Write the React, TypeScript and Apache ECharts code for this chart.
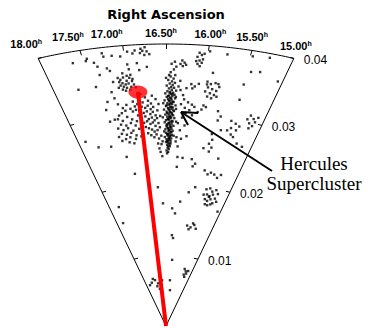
import React, { useEffect, useRef } from "react";
import * as echarts from "echarts";

// ---- axis definitions ----
const RA_MIN = 15;
const RA_MAX = 18;
const RA_CENTER = 16.5;
const Z_MAX = 0.04;
const raTicks = [18, 17.5, 17, 16.5, 16, 15.5, 15];
const raTickLabels = ["18.00", "17.50", "17.00", "16.50", "16.00", "15.50", "15.00"];
const zTicks = [0.01, 0.02, 0.03, 0.04];
const zTickLabels = ["0.01", "0.02", "0.03", "0.04"];
const axisTitle = "Right Ascension";
const annotationLines = ["Hercules", "Supercluster"];

// highlighted direction (red marker)
const markerRA = 16.89;
const markerZ = 0.0333;

// ---- galaxies [RA (h), z] ----
const fingerGalaxies: number[][] = [
  [16.44,0.0354],[16.40,0.0351],[16.47,0.0349],[16.42,0.0347],[16.38,0.0345],[16.45,0.0344],[16.41,0.0342],[16.49,0.0341],
  [16.43,0.0339],[16.39,0.0338],[16.46,0.0337],[16.42,0.0335],[16.36,0.0334],[16.48,0.0333],[16.44,0.0332],[16.40,0.0331],
  [16.51,0.0330],[16.43,0.0329],[16.38,0.0328],[16.46,0.0327],[16.41,0.0326],[16.49,0.0325],[16.44,0.0324],[16.37,0.0323],
  [16.47,0.0322],[16.42,0.0321],[16.52,0.0320],[16.45,0.0319],[16.39,0.0318],[16.43,0.0317],[16.48,0.0316],[16.41,0.0315],
  [16.46,0.0314],[16.36,0.0313],[16.50,0.0312],[16.44,0.0311],[16.40,0.0310],[16.47,0.0309],[16.42,0.0308],[16.53,0.0307],
  [16.45,0.0306],[16.38,0.0305],[16.49,0.0304],[16.43,0.0303],[16.41,0.0302],[16.46,0.0301],[16.51,0.0300],[16.39,0.0299],
  [16.44,0.0298],[16.48,0.0297],[16.42,0.0296],[16.37,0.0295],[16.47,0.0294],[16.45,0.0293],[16.50,0.0292],[16.40,0.0291],
  [16.43,0.0290],[16.52,0.0289],[16.46,0.0288],[16.41,0.0287],[16.48,0.0286],[16.44,0.0285],[16.38,0.0284],[16.49,0.0283],
  [16.43,0.0282],[16.47,0.0281],[16.41,0.0280],[16.51,0.0279],[16.45,0.0278],[16.39,0.0277],[16.46,0.0276],[16.42,0.0275],
  [16.50,0.0274],[16.44,0.0273],[16.48,0.0272],[16.40,0.0271],[16.47,0.0270],[16.43,0.0269],[16.52,0.0268],[16.45,0.0267],
  [16.41,0.0266],[16.49,0.0265],[16.44,0.0264],[16.47,0.0263],[16.42,0.0262],[16.50,0.0261],[16.46,0.0260],[16.44,0.0258],
  [16.48,0.0257],[16.43,0.0255],[16.47,0.0253],[16.45,0.0251],[16.49,0.0249],[16.46,0.0247],[16.48,0.0245],
  [16.45,0.0331],[16.41,0.0329],[16.47,0.0326],[16.43,0.0323],[16.46,0.0320],[16.40,0.0318],[16.44,0.0315],[16.49,0.0313],
  [16.42,0.0311],[16.46,0.0308],[16.39,0.0306],[16.44,0.0304],[16.48,0.0302],[16.41,0.0300],[16.45,0.0297],[16.43,0.0295],
  [16.47,0.0293],[16.40,0.0290],[16.45,0.0288],[16.49,0.0285],[16.42,0.0283],[16.46,0.0280],[16.44,0.0278],[16.41,0.0275],
  [16.47,0.0272],[16.43,0.0270],[16.45,0.0266],[16.48,0.0262],[16.42,0.0259],[16.46,0.0255],[16.36,0.0325],[16.35,0.0308],
  [16.54,0.0316],[16.55,0.0296],[16.53,0.0276],[16.34,0.0290],[16.37,0.0270],[16.33,0.0340],[16.31,0.0348],[16.50,0.0352],
  [16.46,0.0356],[16.38,0.0356],[16.44,0.0360],[16.40,0.0364],[16.37,0.0368],[16.43,0.0372],[16.39,0.0375],
];

const westGroup: number[][] = [
  [17.10,0.0352],[17.06,0.0355],[17.02,0.0350],[16.98,0.0354],[17.08,0.0347],[17.04,0.0345],[17.12,0.0349],[16.95,0.0349],
  [17.00,0.0346],[16.93,0.0344],[17.07,0.0342],[17.11,0.0344],[16.97,0.0341],[17.03,0.0340],[17.09,0.0338],[16.91,0.0340],
  [17.05,0.0336],[17.14,0.0341],[16.99,0.0337],[17.01,0.0357],[17.13,0.0355],[16.96,0.0358],[17.06,0.0361],[16.94,0.0352],
  [16.88,0.0322],[16.84,0.0318],[16.80,0.0325],[16.76,0.0320],[16.72,0.0316],[16.86,0.0312],[16.81,0.0310],[16.77,0.0313],
  [16.73,0.0308],[16.69,0.0311],[16.90,0.0306],[16.84,0.0303],[16.79,0.0305],[16.74,0.0301],[16.70,0.0304],[16.66,0.0299],
  [16.88,0.0296],[16.82,0.0298],[16.77,0.0294],[16.72,0.0296],[16.68,0.0292],[16.64,0.0295],[16.85,0.0289],[16.80,0.0291],
  [16.75,0.0287],[16.71,0.0289],[16.62,0.0288],[16.67,0.0284],[16.83,0.0283],[16.78,0.0281],[16.73,0.0279],[16.60,0.0282],
  [16.69,0.0276],[16.64,0.0278],[16.80,0.0274],[16.75,0.0271],[16.70,0.0268],[16.66,0.0272],[16.62,0.0266],[16.58,0.0270],
  [16.92,0.0316],[16.95,0.0308],[16.93,0.0300],[16.86,0.0330],[16.70,0.0327],[16.65,0.0322],[16.61,0.0315],[16.63,0.0306],
  [16.59,0.0298],[16.58,0.0258],[16.62,0.0252],[16.56,0.0262],[16.60,0.0247],[16.64,0.0259],[16.57,0.0241],
  [17.25,0.0297],[17.18,0.0294],[17.10,0.0299],[17.03,0.0295],[16.96,0.0292],[17.22,0.0289],[17.14,0.0287],[17.06,0.0290],
  [16.99,0.0286],[17.28,0.0284],[17.20,0.0281],[17.12,0.0283],[17.04,0.0279],[16.94,0.0281],[17.24,0.0276],[17.16,0.0274],
  [17.08,0.0276],[17.00,0.0272],[17.30,0.0272],[17.19,0.0268],[17.11,0.0270],[17.02,0.0267],[16.92,0.0270],[17.14,0.0263],
  [17.06,0.0261],[17.26,0.0266],[17.20,0.0318],[17.14,0.0312],[17.08,0.0316],[17.17,0.0305],[17.11,0.0308],[17.03,0.0310],
  [17.22,0.0302],[16.98,0.0320],[17.00,0.0306],[16.96,0.0313],
];

const northField: number[][] = [
  [17.26,0.0392],[17.25,0.0387],[17.15,0.0387],[17.05,0.0385],[16.96,0.0391],[16.90,0.0388],[16.87,0.0392],[16.81,0.0388],
  [16.78,0.0391],[16.76,0.0385],[16.70,0.0386],[17.45,0.0387],[17.47,0.0384],[17.38,0.0380],[17.35,0.0374],[17.24,0.0370],
  [17.21,0.0366],[16.98,0.0373],[16.97,0.0366],[16.86,0.0374],[16.84,0.0364],[16.74,0.0368],[16.75,0.0396],[16.80,0.0394],
  [16.73,0.0390],[17.63,0.0384],[17.35,0.0362],[17.20,0.0350],[17.25,0.0336],[17.39,0.0312],
  [17.68,0.0346],[17.44,0.0346],[17.34,0.0323],[17.23,0.0327],[17.38,0.0295],[17.30,0.0297],[17.88,0.0273],[17.70,0.0262],
  [17.48,0.0260],[17.25,0.0243],[17.16,0.0218],[16.69,0.0197],
  [16.10,0.0389],[16.07,0.0386],[16.12,0.0383],[16.05,0.0380],[16.09,0.0378],[16.06,0.0375],[16.11,0.0373],[16.08,0.0370],
  [16.04,0.0388],[16.13,0.0377],[16.30,0.0377],[16.27,0.0374],[16.32,0.0372],[16.25,0.0371],[16.29,0.0369],
  [15.98,0.0392],[15.77,0.0390],[15.47,0.0392],[15.27,0.0394],
];

const eastField: number[][] = [
  [15.90,0.0362],[15.43,0.0370],[15.32,0.0372],[15.06,0.0364],[15.46,0.0329],[15.47,0.0351],[15.95,0.0345],[15.80,0.0347],
  [15.95,0.0349],[15.90,0.0346],[15.84,0.0348],[15.78,0.0343],[15.93,0.0341],[15.87,0.0339],[15.81,0.0337],[15.96,0.0335],
  [15.89,0.0333],[15.83,0.0331],[15.92,0.0328],[15.86,0.0326],[15.79,0.0329],
  [16.16,0.0344],[16.11,0.0341],[16.06,0.0345],[16.14,0.0338],
  [16.24,0.0322],[16.18,0.0318],[16.12,0.0315],[16.22,0.0310],[16.15,0.0307],[16.08,0.0312],[16.20,0.0303],[16.10,0.0300],
  [16.02,0.0305],[15.97,0.0309],[15.95,0.0315],[15.91,0.0313],[15.72,0.0309],[15.66,0.0302],[15.69,0.0296],
  [16.30,0.0335],[16.26,0.0328],[16.22,0.0338],[16.28,0.0315],[16.25,0.0296],[16.31,0.0288],[16.20,0.0285],[16.27,0.0278],
  [16.33,0.0262],[16.29,0.0255],
  [15.22,0.0310],[15.16,0.0306],[15.12,0.0302],[15.20,0.0299],[15.14,0.0296],[15.25,0.0304],[15.10,0.0309],[15.18,0.0292],
  [15.48,0.0298],[15.40,0.0295],[15.33,0.0292],[15.45,0.0288],[15.36,0.0286],[15.50,0.0284],
  [15.27,0.0268],[15.16,0.0265],[15.60,0.0283],[15.70,0.0268],[15.42,0.0279],[15.37,0.0276],
  [15.74,0.0262],[15.68,0.0257],[15.71,0.0251],[16.32,0.0268],[16.24,0.0266],[16.15,0.0270],
  [16.00,0.0238],[15.92,0.0232],[15.96,0.0228],[16.28,0.0240],[16.18,0.0239],
  [15.70,0.0224],[15.62,0.0219],[15.56,0.0222],[15.48,0.0220],[15.40,0.0216],[15.34,0.0221],
  [15.44,0.0188],[15.82,0.0199],[16.28,0.0226],[15.82,0.0255],[15.50,0.0243],[15.73,0.0276],
];

const southField: number[][] = [
  [15.55,0.0198],[15.47,0.0200],[15.40,0.0196],[15.32,0.0199],[15.25,0.0194],[15.50,0.0191],[15.43,0.0189],[15.36,0.0192],
  [15.28,0.0187],[15.52,0.0184],[15.45,0.0182],[15.38,0.0185],[15.30,0.0180],[15.22,0.0183],[15.48,0.0177],[15.41,0.0176],
  [15.34,0.0178],[15.58,0.0190],[15.08,0.0170],[15.95,0.0191],
  [15.82,0.0144],[15.70,0.0142],[15.60,0.0146],[15.52,0.0141],[15.65,0.0148],[15.75,0.0139],
  [16.24,0.0125],[16.29,0.0129],[17.76,0.0175],[17.82,0.0152],[16.58,0.0174],[16.33,0.0167],[16.13,0.0177],[16.24,0.0160],
  [15.45,0.0083],[15.35,0.0080],[15.28,0.0077],[15.40,0.0075],[15.22,0.0081],[15.32,0.0072],
  [17.74,0.0060],[17.27,0.0066],[17.10,0.0061],[17.03,0.0053],[17.40,0.0068],[16.78,0.0065],[17.55,0.0063],[17.20,0.0057],
  [16.20,0.0094],[16.22,0.0065],[16.14,0.0051],
];

// ---- projection / styling constants ----
const RAD_PER_HOUR = 0.2141;
const STRETCH = 1.436;
const PX_PER_Z = 7050;

function project(ra: number, z: number): number[] {
  const p = (RA_CENTER - ra) * RAD_PER_HOUR;
  return [z * STRETCH * Math.sin(p), z * Math.cos(p)];
}

export default function App() {
  const ref = useRef<HTMLDivElement>(null);
  useEffect(() => {
    if (!ref.current) return;
    const chart = echarts.init(ref.current, undefined, { renderer: "svg" });
    const gridLeft = 11;
    const gridTop = 44;
    const gridW = 310;
    const gridH = 282;
    const xHalf = (Z_MAX * (gridW / 2)) / gridH;

    const outline: number[][] = [project(RA_MAX, 0), project(RA_MAX, Z_MAX)];
    const n = 60;
    for (let i = 1; i < n; i++) {
      outline.push(project(RA_MAX - (i * (RA_MAX - RA_MIN)) / n, Z_MAX));
    }
    outline.push(project(RA_MIN, Z_MAX), project(RA_MIN, 0));

    const tickLines: any[] = [];
    raTicks
      .filter((r) => r > RA_MIN && r < RA_MAX)
      .forEach((ra) => {
        tickLines.push({ coords: [project(ra, Z_MAX), project(ra, Z_MAX - 5 / PX_PER_Z)] });
      });
    zTicks.forEach((z) => {
      const e = 4 / (z * PX_PER_Z * 1.38 * RAD_PER_HOUR);
      tickLines.push({ coords: [project(RA_MAX, z), project(RA_MAX - e, z)] });
      tickLines.push({ coords: [project(RA_MIN, z), project(RA_MIN + e, z)] });
    });

    const galaxies = [...fingerGalaxies, ...westGroup, ...northField, ...eastField, ...southField].map(
      ([ra, z]) => project(ra, z)
    );

    chart.setOption({
      animation: false,
      grid: { left: gridLeft, top: gridTop, width: gridW, height: gridH },
      xAxis: { type: "value", min: -xHalf, max: xHalf, show: false },
      yAxis: { type: "value", min: 0, max: Z_MAX, show: false },
      series: [
        {
          type: "scatter",
          data: galaxies,
          symbol: "rect",
          symbolSize: 2.4,
          itemStyle: { color: "#000" },
          silent: true,
          clip: false,
          z: 2,
        },
        {
          type: "line",
          data: outline,
          showSymbol: false,
          lineStyle: { color: "#000", width: 1 },
          silent: true,
          clip: false,
          z: 3,
        },
        {
          type: "lines",
          coordinateSystem: "cartesian2d",
          data: tickLines,
          lineStyle: { color: "#000", width: 1, opacity: 1, curveness: 0 },
          silent: true,
          z: 3,
        },
        {
          type: "line",
          data: [project(markerRA, 0), project(markerRA, markerZ)],
          showSymbol: false,
          lineStyle: { color: "#ff0000", width: 4 },
          silent: true,
          clip: false,
          z: 4,
        },
        {
          type: "scatter",
          data: [project(markerRA, markerZ)],
          symbol: "circle",
          symbolSize: [19, 13],
          itemStyle: { color: "#ff0000" },
          silent: true,
          clip: false,
          z: 5,
        },
      ],
    });

    const raShift = [
      [-12, -14],
      [-12, -13],
      [-16, -12],
      [-5, -11],
      [1, -12],
      [0, -13],
      [2, -12],
    ];
    const graphics: any[] = [];
    raTicks.forEach((ra, i) => {
      const p = chart.convertToPixel({ gridIndex: 0 }, project(ra, Z_MAX)) as number[];
      graphics.push({
        type: "text",
        x: p[0] + raShift[i][0],
        y: p[1] + raShift[i][1],
        style: {
          text: `{n|${raTickLabels[i]}}{h|h}`,
          align: "center",
          verticalAlign: "middle",
          rich: {
            n: { fontSize: 11, fontWeight: "bold", fontFamily: "Liberation Sans", fill: "#000", lineHeight: 12 },
            h: { fontSize: 7, fontWeight: "bold", fontFamily: "Liberation Sans", fill: "#000", verticalAlign: "top", lineHeight: 8 },
          },
        },
      });
    });
    zTicks.forEach((z, i) => {
      const p = chart.convertToPixel({ gridIndex: 0 }, project(RA_MIN, z)) as number[];
      graphics.push({
        type: "text",
        x: p[0] + 10,
        y: p[1] + 2,
        style: {
          text: zTickLabels[i],
          align: "left",
          verticalAlign: "middle",
          fontSize: 12,
          fontFamily: "Liberation Sans",
          fill: "#000",
        },
      });
    });
    const apexTop = chart.convertToPixel({ gridIndex: 0 }, project(RA_CENTER, Z_MAX)) as number[];
    graphics.push({
      type: "text",
      x: apexTop[0],
      y: 14,
      style: {
        text: axisTitle,
        align: "center",
        verticalAlign: "middle",
        fontSize: 13,
        fontWeight: "bold",
        fontFamily: "DejaVu Sans",
        fill: "#000",
      },
    });
    // annotation arrow + text
    graphics.push(
      { type: "line", shape: { x1: 272, y1: 171, x2: 181, y2: 112 }, style: { stroke: "#000", lineWidth: 2 } },
      { type: "line", shape: { x1: 181, y1: 112, x2: 188, y2: 125 }, style: { stroke: "#000", lineWidth: 2 } },
      { type: "line", shape: { x1: 181, y1: 112, x2: 198, y2: 113 }, style: { stroke: "#000", lineWidth: 2 } },
      {
        type: "text",
        x: 314,
        y: 163,
        style: {
          text: annotationLines[0],
          align: "center",
          verticalAlign: "middle",
          fontSize: 19,
          fontFamily: "Liberation Serif",
          fill: "#000",
        },
      },
      {
        type: "text",
        x: 314,
        y: 183,
        style: {
          text: annotationLines[1],
          align: "center",
          verticalAlign: "middle",
          fontSize: 19,
          fontFamily: "Liberation Serif",
          fill: "#000",
        },
      }
    );
    chart.setOption({ graphic: graphics });

    return () => chart.dispose();
  }, []);

  return (
    <div
      ref={ref}
      style={{ position: "absolute", left: 0, top: 0, width: 368, height: 328, background: "#fff" }}
    />
  );
}
